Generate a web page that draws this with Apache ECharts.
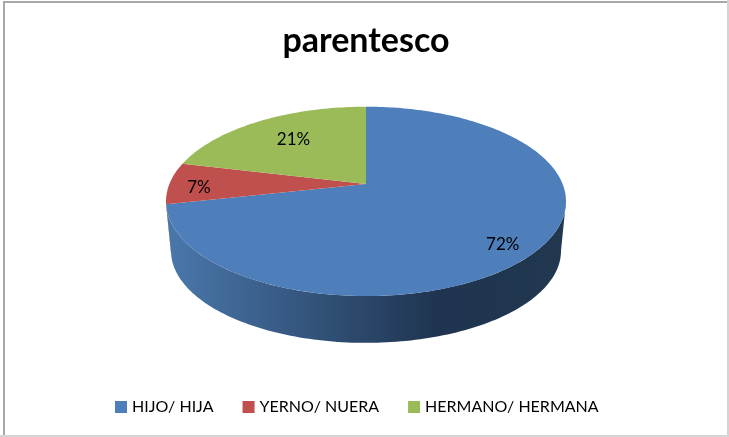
<!DOCTYPE html>
<html>
<head>
<meta charset="utf-8">
<style>
html,body{margin:0;padding:0;background:#fff;}
#chart{width:729px;height:437px;}
</style>
<script src="https://cdn.jsdelivr.net/npm/echarts@6/dist/echarts.min.js"></script>
</head>
<body>
<div id="chart"></div>
<script>
// datos
const categories = ['HIJO/ HIJA', 'YERNO/ NUERA', 'HERMANO/ HERMANA'];
const values = [71.6, 7.1, 21.3];
const colors = ['#4e7fbb', '#c0504d', '#9bbb59'];

// geometria de la tarta en perspectiva
const k = 0.1834;
const topFace = {cx: 366, cy: 184, a: 196.6, b: 91.5};
const bottomFace = {cx: 366, cy: 234, a: 191.7, b: 88.9};
// ajuste de las etiquetas sobre su radio
const labelRadius = 0.81;
const labelShift = [[0, 9], [-8, 4], [16, 8]];

const total = values.reduce((a, b) => a + b, 0);
const starts = values.map((v, i) => values.slice(0, i).reduce((a, b) => a + b, 0) / total);
// la pared solo se ve entre los dos puntos extremos de la elipse
const wallFrom = Math.acos(-k) / (Math.PI * 2);
const wallTo = 1 - wallFrom;

// t = fraccion de vuelta en sentido horario desde arriba, r = radio 0..1
function project(face, t, r) {
	const u = Math.sin(t * Math.PI * 2) * r;
	const v = -Math.cos(t * Math.PI * 2) * r;
	const w = 1 - k * v;
	return [face.cx + face.a * u / w, face.cy + face.b * v / w];
}

function arc(face, from, to) {
	const n = Math.max(2, Math.ceil((to - from) * 300));
	const pts = [];
	for (let i = 0; i <= n; i++) {
		pts.push(project(face, from + (to - from) * i / n, 1));
	}
	return pts;
}

function wallFill(i) {
	const stops = [
		[{offset: 0, color: '#4a78ac'}, {offset: 0.68, color: '#1f3450'}, {offset: 1, color: '#21384f'}],
		[{offset: 0, color: '#8c3a38'}, {offset: 1, color: '#5c2625'}],
		[{offset: 0, color: '#71893f'}, {offset: 1, color: '#4c5c2b'}]
	][i];
	return new echarts.graphic.LinearGradient(166, 0, 566, 0, stops, true);
}

const faceSeries = categories.map((name, i) => ({
	type: 'custom',
	name: name,
	coordinateSystem: 'none',
	z: 3,
	silent: true,
	itemStyle: {color: colors[i]},
	data: [values[i]],
	renderItem: function (params, api) {
		const from = starts[i];
		const to = from + api.value(0) / total;
		const mid = (from + to) / 2;
		const lp = project(topFace, mid, labelRadius);
		return {
			type: 'group',
			children: [{
				type: 'polygon',
				shape: {points: [[topFace.cx, topFace.cy]].concat(arc(topFace, from, to))},
				style: {fill: colors[i]}
			}, {
				type: 'text',
				z2: 10,
				style: {
					x: lp[0] + labelShift[i][0],
					y: lp[1] + labelShift[i][1],
					text: Math.round(api.value(0) / total * 100) + '%',
					fill: '#000',
					font: '17px Lato',
					align: 'center',
					verticalAlign: 'middle'
				}
			}]
		};
	}
}));

const wallSeries = {
	type: 'custom',
	name: 'lateral',
	coordinateSystem: 'none',
	z: 2,
	silent: true,
	data: values.map(v => [v]),
	renderItem: function (params, api) {
		const i = params.dataIndex;
		const from = Math.max(starts[i], wallFrom);
		const to = Math.min(starts[i] + api.value(0) / total, wallTo);
		if (to <= from) {
			return null;
		}
		return {
			type: 'polygon',
			shape: {points: arc(topFace, from, to).concat(arc(bottomFace, from, to).reverse())},
			style: {fill: wallFill(i)}
		};
	}
};

const chart = echarts.init(document.getElementById('chart'), null, {renderer: 'canvas'});
chart.setOption({
	animation: false,
	backgroundColor: '#fff',
	title: {
		text: 'parentesco',
		left: 366,
		top: 19,
		textAlign: 'center',
		textStyle: {fontFamily: 'Lato', fontWeight: 'bold', fontSize: 34, color: '#000'},
		padding: [5, 10, 5, 0]
	},
	legend: {
		data: categories,
		left: 110,
		top: 394,
		icon: 'rect',
		itemWidth: 12,
		itemHeight: 12,
		itemGap: 29,
		selectedMode: false,
		textStyle: {fontFamily: 'Lato', fontSize: 16, color: '#000'}
	},
	graphic: [
		{type: 'rect', silent: true, shape: {x: 727, y: 0, width: 2, height: 437}, style: {fill: '#d4d4d4'}},
		{type: 'rect', silent: true, shape: {x: 0, y: 435, width: 729, height: 2}, style: {fill: '#d4d4d4'}},
		{type: 'rect', silent: true, shape: {x: 3, y: 1, width: 724, height: 2}, style: {fill: '#a8a8a8'}},
		{type: 'rect', silent: true, shape: {x: 3, y: 1, width: 2, height: 434}, style: {fill: '#a8a8a8'}}
	],
	series: [wallSeries].concat(faceSeries)
});
</script>
</body>
</html>
